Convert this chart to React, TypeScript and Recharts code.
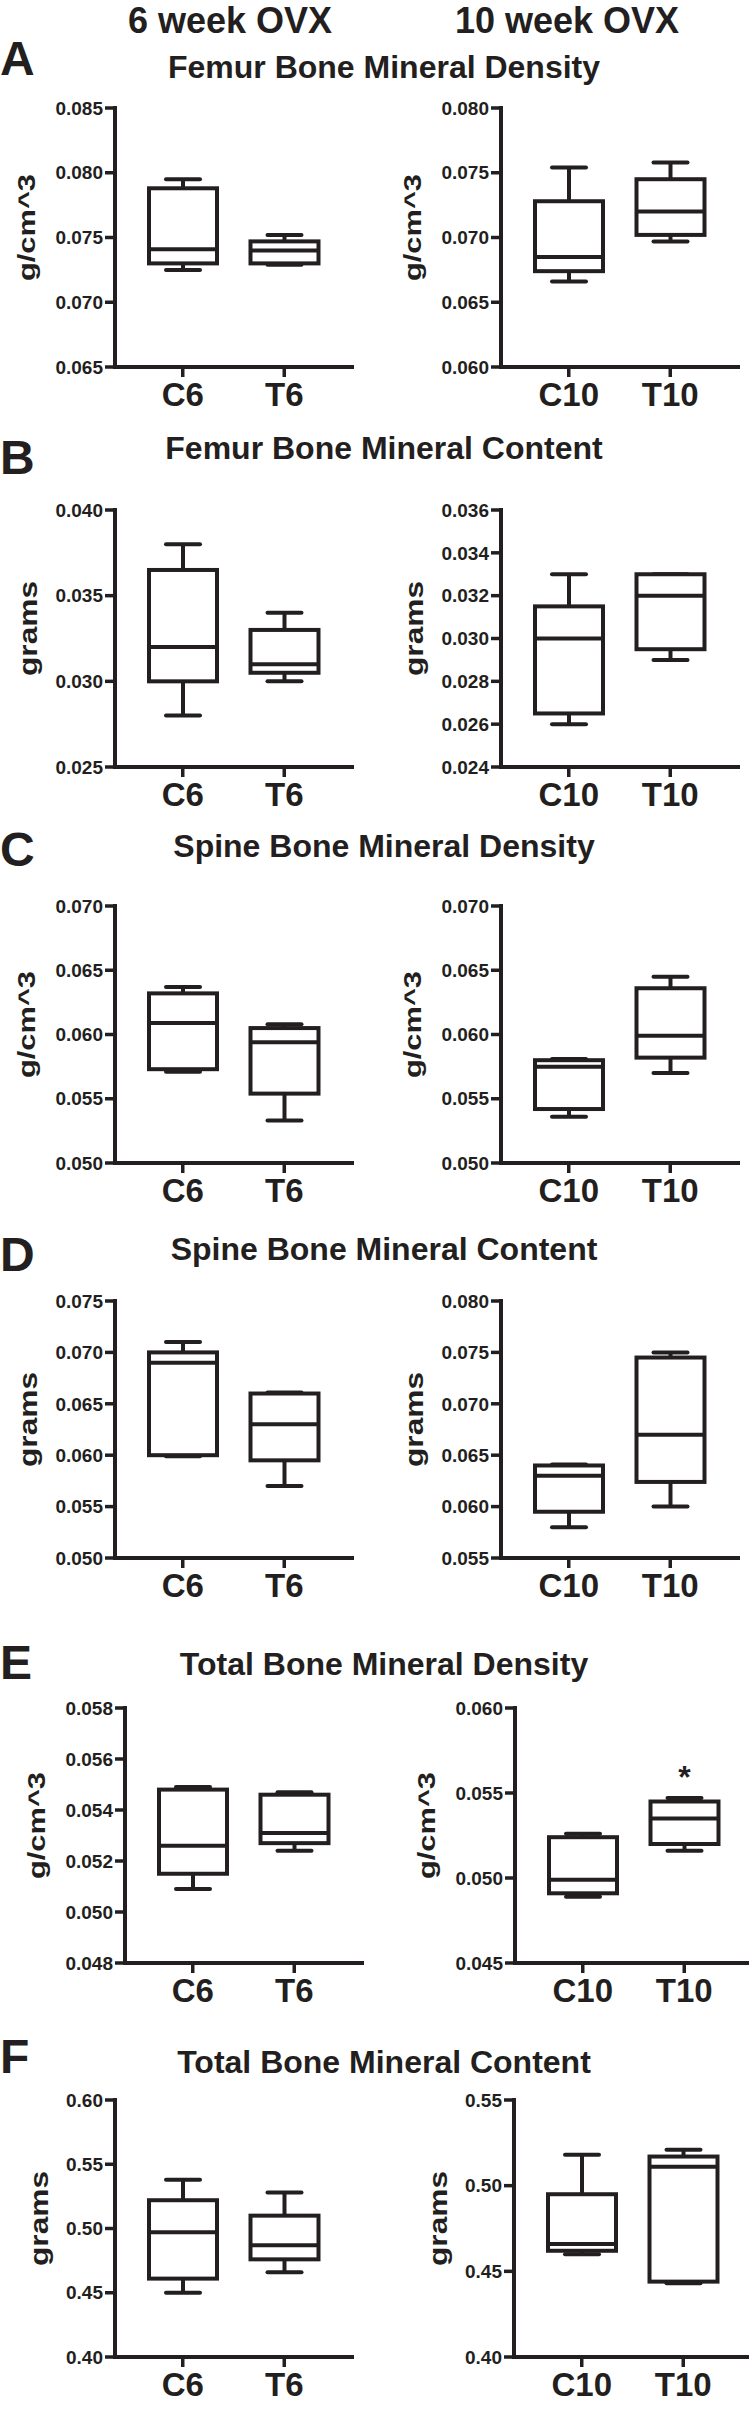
import React from "react";
import { ComposedChart, Bar, XAxis, YAxis } from "recharts";

const FONT = '"Liberation Sans", Arial, Helvetica, sans-serif';
const INK = "#231f20";

const groups6 = ["C6", "T6"];
const groups10 = ["C10", "T10"];

// each box: [min, q1, median, q3, max]
const femurBmd6 = [
  [0.0725, 0.073, 0.0741, 0.0788, 0.0795],
  [0.0729, 0.073, 0.074, 0.0747, 0.0752],
];
const femurBmd10 = [
  [0.0666, 0.0674, 0.0685, 0.0728, 0.0754],
  [0.0697, 0.0702, 0.072, 0.0745, 0.0758],
];
const femurBmc6 = [
  [0.028, 0.03, 0.032, 0.0365, 0.038],
  [0.03, 0.0305, 0.031, 0.033, 0.034],
];
const femurBmc10 = [
  [0.026, 0.0265, 0.03, 0.0315, 0.033],
  [0.029, 0.0295, 0.032, 0.033, 0.033],
];
const spineBmd6 = [
  [0.0571, 0.0573, 0.0609, 0.0632, 0.0637],
  [0.0533, 0.0554, 0.0594, 0.0605, 0.0608],
];
const spineBmd10 = [
  [0.0536, 0.0542, 0.0575, 0.058, 0.0581],
  [0.057, 0.0582, 0.0599, 0.0636, 0.0645],
];
const spineBmc6 = [
  [0.0599, 0.06, 0.069, 0.07, 0.071],
  [0.057, 0.0595, 0.063, 0.066, 0.0661],
];
const spineBmc10 = [
  [0.058, 0.0595, 0.063, 0.064, 0.0641],
  [0.06, 0.0624, 0.067, 0.0745, 0.075],
];
const totalBmd6 = [
  [0.0509, 0.0515, 0.0526, 0.0548, 0.0549],
  [0.0524, 0.0527, 0.0531, 0.0546, 0.0547],
];
const totalBmd10 = [
  [0.0489, 0.0491, 0.0499, 0.0524, 0.0526],
  [0.0516, 0.052, 0.0535, 0.0545, 0.0547],
];
const totalBmc6 = [
  [0.45, 0.461, 0.497, 0.522, 0.538],
  [0.466, 0.476, 0.487, 0.51, 0.528],
];
const totalBmc10 = [
  [0.46, 0.462, 0.466, 0.495, 0.518],
  [0.443, 0.444, 0.511, 0.517, 0.521],
];
const totalBmd10Sig = ["", "*"];

const femurBmd6Ticks = [0.065, 0.07, 0.075, 0.08, 0.085];
const femurBmd10Ticks = [0.06, 0.065, 0.07, 0.075, 0.08];
const femurBmc6Ticks = [0.025, 0.03, 0.035, 0.04];
const femurBmc10Ticks = [0.024, 0.026, 0.028, 0.03, 0.032, 0.034, 0.036];
const spineBmdTicks = [0.05, 0.055, 0.06, 0.065, 0.07];
const spineBmc6Ticks = [0.05, 0.055, 0.06, 0.065, 0.07, 0.075];
const spineBmc10Ticks = [0.055, 0.06, 0.065, 0.07, 0.075, 0.08];
const totalBmd6Ticks = [0.048, 0.05, 0.052, 0.054, 0.056, 0.058];
const totalBmd10Ticks = [0.045, 0.05, 0.055, 0.06];
const totalBmc6Ticks = [0.4, 0.45, 0.5, 0.55, 0.6];
const totalBmc10Ticks = [0.4, 0.45, 0.5, 0.55];

const rows = [
  {
    letter: "A", title: "Femur Bone Mineral Density", unit: "g/cm^3",
    left: { groups: groups6, stats: femurBmd6, ticks: femurBmd6Ticks, digits: 3 },
    right: { groups: groups10, stats: femurBmd10, ticks: femurBmd10Ticks, digits: 3 },
  },
  {
    letter: "B", title: "Femur Bone Mineral Content", unit: "grams",
    left: { groups: groups6, stats: femurBmc6, ticks: femurBmc6Ticks, digits: 3 },
    right: { groups: groups10, stats: femurBmc10, ticks: femurBmc10Ticks, digits: 3 },
  },
  {
    letter: "C", title: "Spine Bone Mineral Density", unit: "g/cm^3",
    left: { groups: groups6, stats: spineBmd6, ticks: spineBmdTicks, digits: 3 },
    right: { groups: groups10, stats: spineBmd10, ticks: spineBmdTicks, digits: 3 },
  },
  {
    letter: "D", title: "Spine Bone Mineral Content", unit: "grams",
    left: { groups: groups6, stats: spineBmc6, ticks: spineBmc6Ticks, digits: 3 },
    right: { groups: groups10, stats: spineBmc10, ticks: spineBmc10Ticks, digits: 3 },
  },
  {
    letter: "E", title: "Total Bone Mineral Density", unit: "g/cm^3",
    left: { groups: groups6, stats: totalBmd6, ticks: totalBmd6Ticks, digits: 3 },
    right: { groups: groups10, stats: totalBmd10, ticks: totalBmd10Ticks, digits: 3, sig: totalBmd10Sig },
  },
  {
    letter: "F", title: "Total Bone Mineral Content", unit: "grams",
    left: { groups: groups6, stats: totalBmc6, ticks: totalBmc6Ticks, digits: 2 },
    right: { groups: groups10, stats: totalBmc10, ticks: totalBmc10Ticks, digits: 2 },
  },
];

// page layout per row (pixels)
const layout = [
  { top: 108, bottom: 367, axL: 115, axR: 501, titleY: 78, letterY: 75, labelDx: 88 },
  { top: 510, bottom: 767, axL: 115, axR: 501, titleY: 459, letterY: 474, labelDx: 87 },
  { top: 906, bottom: 1163, axL: 115, axR: 501, titleY: 857, letterY: 866, labelDx: 88 },
  { top: 1301, bottom: 1558, axL: 115, axR: 501, titleY: 1260, letterY: 1271, labelDx: 87 },
  { top: 1708, bottom: 1963, axL: 125, axR: 515, titleY: 1675, letterY: 1679, labelDx: 88 },
  { top: 2100, bottom: 2357, axL: 115, axR: 514, titleY: 2073, letterY: 2073, labelDx: 76 },
];

const YW = 110;
const PW = 237;
const MT = 15;
const MR = 10;
const XH = 50;

function BoxShape(props: any) {
  const { x, y, width, height, payload } = props;
  if (!payload) return null;
  const [mn, q1, med, q3, mx] = payload.stats;
  const top = Math.min(y, y + height);
  const bot = Math.max(y, y + height);
  const k = mx === mn ? 0 : (bot - top) / (mx - mn);
  const py = (v: number) => bot - (v - mn) * k;
  const cx = x + width / 2;
  const half = width * 0.25;
  return (
    <g stroke={INK} strokeWidth={4} fill="none">
      <line x1={cx} x2={cx} y1={py(mx)} y2={py(q3)} />
      <line x1={cx} x2={cx} y1={py(q1)} y2={py(mn)} />
      <line x1={cx - half} x2={cx + half} y1={py(mx)} y2={py(mx)} strokeLinecap="round" />
      <line x1={cx - half} x2={cx + half} y1={py(mn)} y2={py(mn)} strokeLinecap="round" />
      <rect x={x} y={py(q3)} width={width} height={py(q1) - py(q3)} fill="#fff" />
      <line x1={x} x2={x + width} y1={py(med)} y2={py(med)} />
      {payload.sig ? (
        <text x={cx} y={py(mx) - 10} textAnchor="middle" fontSize={32} fontWeight={700}
          fontFamily={FONT} fill={INK} stroke="none">
          {payload.sig}
        </text>
      ) : null}
    </g>
  );
}

function Panel({ spec, axisX, top, bottom }: any) {
  const { groups, stats, ticks, digits, sig } = spec;
  const data = groups.map((g: string, i: number) => ({
    name: g,
    range: [stats[i][0], stats[i][4]],
    stats: stats[i],
    sig: sig ? sig[i] : "",
  }));
  const plotH = bottom - top;
  const axisLine = { stroke: INK, strokeWidth: 4, strokeLinecap: "square" };
  const tickLine = { stroke: INK, strokeWidth: 3.5 };
  return (
    <div style={{ position: "absolute", left: axisX - YW, top: top - MT }}>
      <ComposedChart
        width={YW + PW + MR}
        height={MT + plotH + XH}
        data={data}
        margin={{ top: MT, right: MR, bottom: 0, left: 0 }}
      >
        <XAxis
          dataKey="name"
          type="category"
          height={XH}
          interval={0}
          padding={{ left: 17, right: 17 }}
          tickSize={10}
          tickMargin={6}
          axisLine={axisLine as any}
          tickLine={tickLine}
          tick={{ fill: INK, fontSize: 33, fontWeight: 700, fontFamily: FONT }}
        />
        <YAxis
          type="number"
          domain={[ticks[0], ticks[ticks.length - 1]]}
          ticks={ticks}
          interval={0}
          allowDataOverflow
          width={YW}
          tickSize={10}
          tickMargin={2}
          tickFormatter={(v: number) => v.toFixed(digits)}
          axisLine={axisLine as any}
          tickLine={tickLine}
          tick={{ fill: INK, fontSize: 19, fontWeight: 700, fontFamily: FONT }}
        />
        <Bar dataKey="range" barSize={68} shape={BoxShape} isAnimationActive={false} />
      </ComposedChart>
    </div>
  );
}

function YLabel({ text, cx, cy }: any) {
  const isGrams = text === "grams";
  return (
    <text
      x={cx}
      y={cy}
      transform={`rotate(-90 ${cx} ${cy})`}
      textAnchor="middle"
      dominantBaseline="central"
      fontSize={isGrams ? 25 : 23}
      fontWeight={700}
      fontFamily={FONT}
      fill={INK}
      textLength={isGrams ? 95 : 107}
      lengthAdjust="spacingAndGlyphs"
    >
      {text}
    </text>
  );
}

export default function App() {
  return (
    <div
      style={{
        position: "absolute",
        left: 0,
        top: 0,
        width: 749,
        height: 2411,
        background: "#fff",
        overflow: "hidden",
      }}
    >
      {rows.map((row, i) => {
        const l = layout[i];
        return (
          <React.Fragment key={row.letter}>
            <Panel spec={row.left} axisX={l.axL} top={l.top} bottom={l.bottom} />
            <Panel spec={row.right} axisX={l.axR} top={l.top} bottom={l.bottom} />
          </React.Fragment>
        );
      })}
      <svg
        width={749}
        height={2411}
        style={{ position: "absolute", left: 0, top: 0, pointerEvents: "none" }}
      >
        <g fontFamily={FONT} fontWeight={700} fill={INK}>
          <text x={230} y={33} fontSize={36} textAnchor="middle">6 week OVX</text>
          <text x={567} y={33} fontSize={36} textAnchor="middle">10 week OVX</text>
          {rows.map((row, i) => {
            const l = layout[i];
            const cy = (l.top + l.bottom) / 2 - 10;
            return (
              <g key={row.letter}>
                <text x={0} y={l.letterY} fontSize={48}>{row.letter}</text>
                <text x={384} y={l.titleY} fontSize={32} textAnchor="middle">{row.title}</text>
                <YLabel text={row.unit} cx={l.axL - l.labelDx} cy={cy} />
                <YLabel text={row.unit} cx={l.axR - l.labelDx} cy={cy} />
              </g>
            );
          })}
        </g>
      </svg>
    </div>
  );
}
